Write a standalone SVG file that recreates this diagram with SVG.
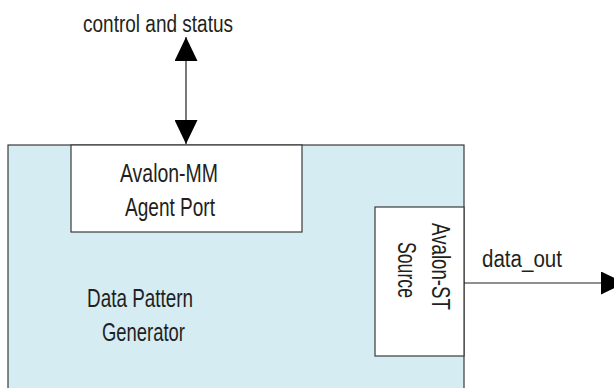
<svg xmlns="http://www.w3.org/2000/svg" width="614" height="388" viewBox="0 0 614 388">
<style>
.blk{fill:#d5ecf3;stroke:#3a3a3a;stroke-width:1.2}
.port{fill:#ffffff;stroke:#3a3a3a;stroke-width:1.2}
.t{font-family:"Liberation Sans",Arial,sans-serif;fill:#231f20;text-anchor:middle}
.big{font-size:26.5px}
.sm{font-size:23px}
.wire{stroke:#231f20;stroke-width:1.2;fill:none}
</style>
<defs>
<marker id="ah" markerUnits="userSpaceOnUse" markerWidth="24" markerHeight="23" refX="24" refY="11.5" orient="auto-start-reverse">
<path d="M0,0 L24,11.5 L0,23 Z" fill="#000"/>
</marker>
</defs>
<g id="generator">
<rect class="blk" x="8" y="145" width="456" height="260"/>
<text class="t big" x="140" y="307" textLength="106" lengthAdjust="spacingAndGlyphs">Data Pattern</text>
<text class="t big" x="143.5" y="341" textLength="83" lengthAdjust="spacingAndGlyphs">Generator</text>
</g>
<g id="mm-agent-port">
<rect class="port" x="71" y="145" width="231" height="87"/>
<text class="t big" x="169" y="182" textLength="98" lengthAdjust="spacingAndGlyphs">Avalon-MM</text>
<text class="t big" x="170" y="216" textLength="90" lengthAdjust="spacingAndGlyphs">Agent Port</text>
</g>
<g id="st-source">
<rect class="port" x="375" y="207" width="89" height="149"/>
<text class="t big" transform="translate(432,266.5) rotate(90)" x="0" y="0" textLength="87" lengthAdjust="spacingAndGlyphs">Avalon-ST</text>
<text class="t big" transform="translate(398,270) rotate(90)" x="0" y="0" textLength="56" lengthAdjust="spacingAndGlyphs">Source</text>
</g>
<g id="connectors">
<line class="wire" x1="186" y1="37" x2="186" y2="144" marker-start="url(#ah)" marker-end="url(#ah)"/>
<line class="wire" x1="464" y1="283" x2="625" y2="283" marker-end="url(#ah)"/>
<text class="t sm" x="158" y="32" textLength="150" lengthAdjust="spacingAndGlyphs">control and status</text>
<text class="t sm" x="522" y="267" textLength="80" lengthAdjust="spacingAndGlyphs">data_out</text>
</g>
</svg>
